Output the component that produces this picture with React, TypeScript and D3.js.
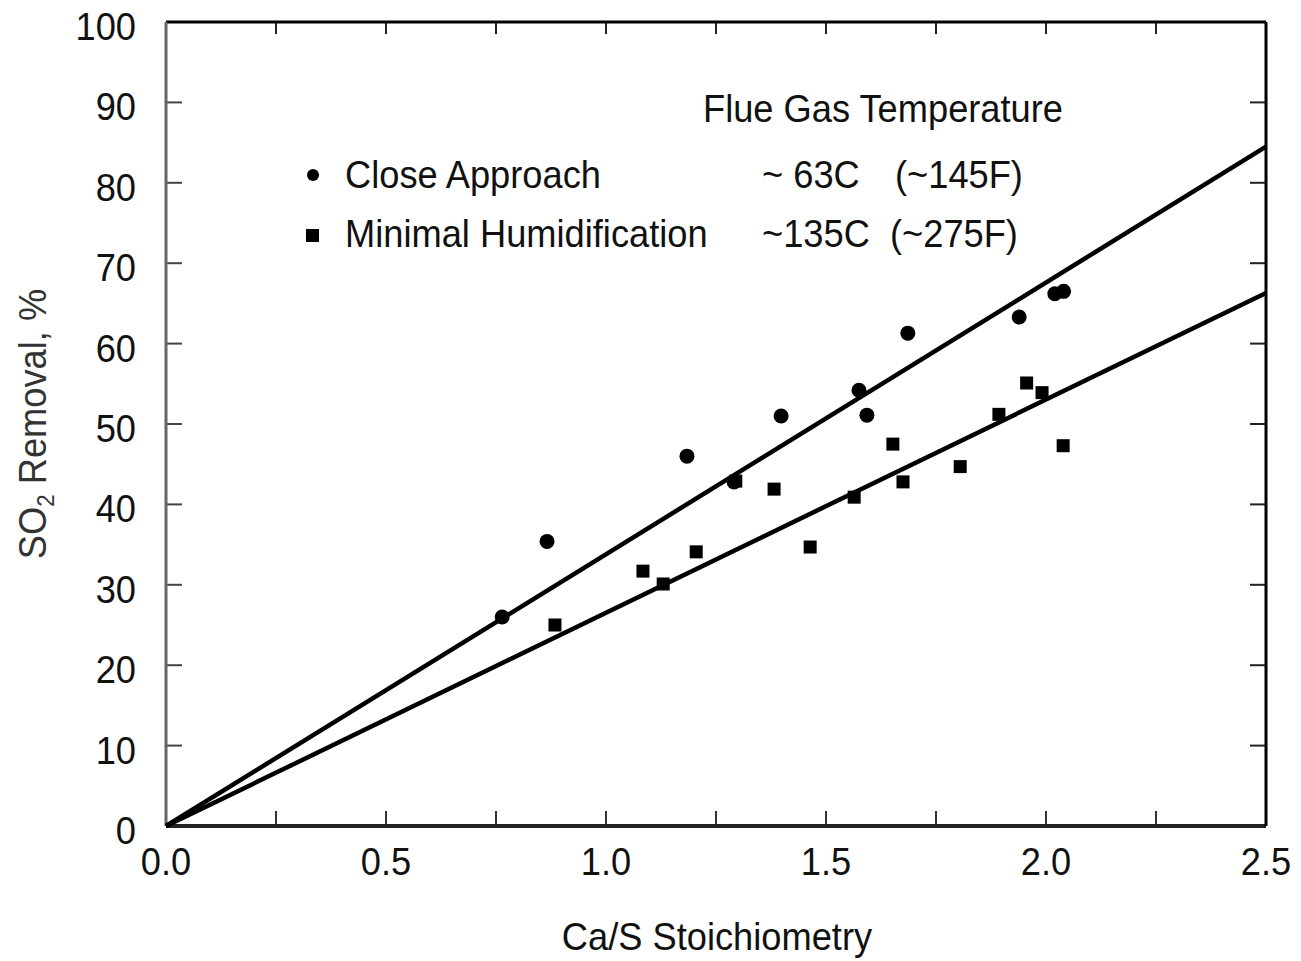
import React, { useEffect, useRef } from "react";
import * as d3 from "d3";

// Close Approach (circles)
const closeX = [0.764, 0.866, 1.184, 1.291, 1.398, 1.575, 1.593, 1.686, 1.939, 2.02, 2.04];
const closeY = [26.0, 35.4, 46.0, 42.8, 51.0, 54.2, 51.1, 61.3, 63.3, 66.2, 66.5];

// Minimal Humidification (squares)
const minX = [0.884, 1.084, 1.13, 1.205, 1.295, 1.382, 1.464, 1.564, 1.652, 1.675, 1.805, 1.893, 1.956, 1.991, 2.039];
const minY = [25.0, 31.7, 30.1, 34.1, 42.9, 41.9, 34.7, 40.9, 47.5, 42.8, 44.7, 51.2, 55.1, 53.9, 47.3];

// fitted lines (through origin)
const fitX = [0, 2.5];
const closeFit = [0, 84.5];
const minFit = [0, 66.3];

const xTicks = [0, 0.5, 1.0, 1.5, 2.0, 2.5];
const yTicks = [0, 10, 20, 30, 40, 50, 60, 70, 80, 90, 100];

const FONT = "'Liberation Sans', Arial, sans-serif";
const FS = 39;
const SX = 0.93;

export default function App() {
  const ref = useRef<SVGSVGElement | null>(null);

  useEffect(() => {
    const svg = d3.select(ref.current);
    svg.selectAll("*").remove();

    const left = 166, right = 1266, top = 22, bottom = 826;

    const x = d3.scaleLinear().domain([0, 2.5]).range([left, right]);
    const y = d3.scaleLinear().domain([0, 100]).range([bottom, top]);

    const text = (tx: number, ty: number, s: string, anchor = "start") =>
      svg.append("text")
        .attr("transform", "translate(" + tx + "," + ty + ") scale(" + SX + ",1)")
        .attr("text-anchor", anchor)
        .attr("font-family", FONT)
        .attr("font-size", FS)
        .attr("fill", "#111")
        .text(s);

    // minor ticks on top / bottom every 0.25
    const minor = d3.range(0.25, 2.5, 0.25);
    svg.append("g").selectAll("line")
      .data(minor)
      .enter()
      .append("line")
      .attr("x1", d => x(d)).attr("x2", d => x(d))
      .attr("y1", bottom).attr("y2", bottom - 15)
      .attr("stroke", "#333").attr("stroke-width", 2);
    svg.append("g").selectAll("line")
      .data(minor)
      .enter()
      .append("line")
      .attr("x1", d => x(d)).attr("x2", d => x(d))
      .attr("y1", top).attr("y2", top + 12)
      .attr("stroke", "#222").attr("stroke-width", 2);

    // y ticks both sides
    svg.append("g").selectAll("line")
      .data(yTicks)
      .enter()
      .append("line")
      .attr("x1", left).attr("x2", left + 16)
      .attr("y1", d => y(d)).attr("y2", d => y(d))
      .attr("stroke", "#444").attr("stroke-width", 2);
    svg.append("g").selectAll("line")
      .data(yTicks)
      .enter()
      .append("line")
      .attr("x1", right).attr("x2", right - 16)
      .attr("y1", d => y(d)).attr("y2", d => y(d))
      .attr("stroke", "#222").attr("stroke-width", 2);

    // frame
    svg.append("line").attr("x1", left).attr("x2", right).attr("y1", top).attr("y2", top)
      .attr("stroke", "#000").attr("stroke-width", 3);
    svg.append("line").attr("x1", left).attr("x2", right).attr("y1", bottom).attr("y2", bottom)
      .attr("stroke", "#222").attr("stroke-width", 4);
    svg.append("line").attr("x1", left).attr("x2", left).attr("y1", top).attr("y2", bottom)
      .attr("stroke", "#666").attr("stroke-width", 3);
    svg.append("line").attr("x1", right).attr("x2", right).attr("y1", top).attr("y2", bottom)
      .attr("stroke", "#000").attr("stroke-width", 3);

    // tick labels
    xTicks.forEach(t => text(x(t), 875, t.toFixed(1), "middle"));
    yTicks.forEach(t => text(136, y(t) + 18, String(t), "end"));

    // fit lines
    const line = d3.line<number>()
      .x((d, i) => x(fitX[i]))
      .y(d => y(d));
    [closeFit, minFit].forEach(f => {
      svg.append("path")
        .attr("d", line(f))
        .attr("fill", "none")
        .attr("stroke", "#000")
        .attr("stroke-width", 4.5);
    });

    // points
    svg.append("g").selectAll("circle")
      .data(closeX)
      .enter()
      .append("circle")
      .attr("cx", d => x(d))
      .attr("cy", (d, i) => y(closeY[i]))
      .attr("r", 7.5)
      .attr("fill", "#000");

    svg.append("g").selectAll("rect")
      .data(minX)
      .enter()
      .append("rect")
      .attr("x", d => x(d) - 6.5)
      .attr("y", (d, i) => y(minY[i]) - 6.5)
      .attr("width", 13)
      .attr("height", 13)
      .attr("fill", "#000");

    // legend
    text(703, 122, "Flue Gas Temperature");
    svg.append("circle").attr("cx", 313).attr("cy", 175).attr("r", 6).attr("fill", "#000");
    text(345, 188, "Close Approach");
    text(762, 188, "~ 63C");
    text(895, 188, "(~145F)");
    svg.append("rect").attr("x", 306).attr("y", 229).attr("width", 13).attr("height", 13).attr("fill", "#000");
    text(345, 247, "Minimal Humidification");
    text(762, 247, "~135C");
    text(890, 247, "(~275F)");

    // axis titles
    text(717, 950, "Ca/S Stoichiometry", "middle");

    const yl = svg.append("text")
      .attr("transform", "translate(46,424) rotate(-90) scale(" + SX + ",1)")
      .attr("text-anchor", "middle")
      .attr("font-family", FONT)
      .attr("font-size", FS)
      .attr("fill", "#333");
    yl.append("tspan").text("SO");
    yl.append("tspan").attr("font-size", 24).attr("dy", 8).text("2");
    yl.append("tspan").attr("dy", -8).text(" Removal, %");
  }, []);

  return (
    <div style={{ position: "absolute", left: 0, top: 0 }}>
      <svg ref={ref} width={1301} height={961} style={{ display: "block", background: "#fff" }} />
    </div>
  );
}
